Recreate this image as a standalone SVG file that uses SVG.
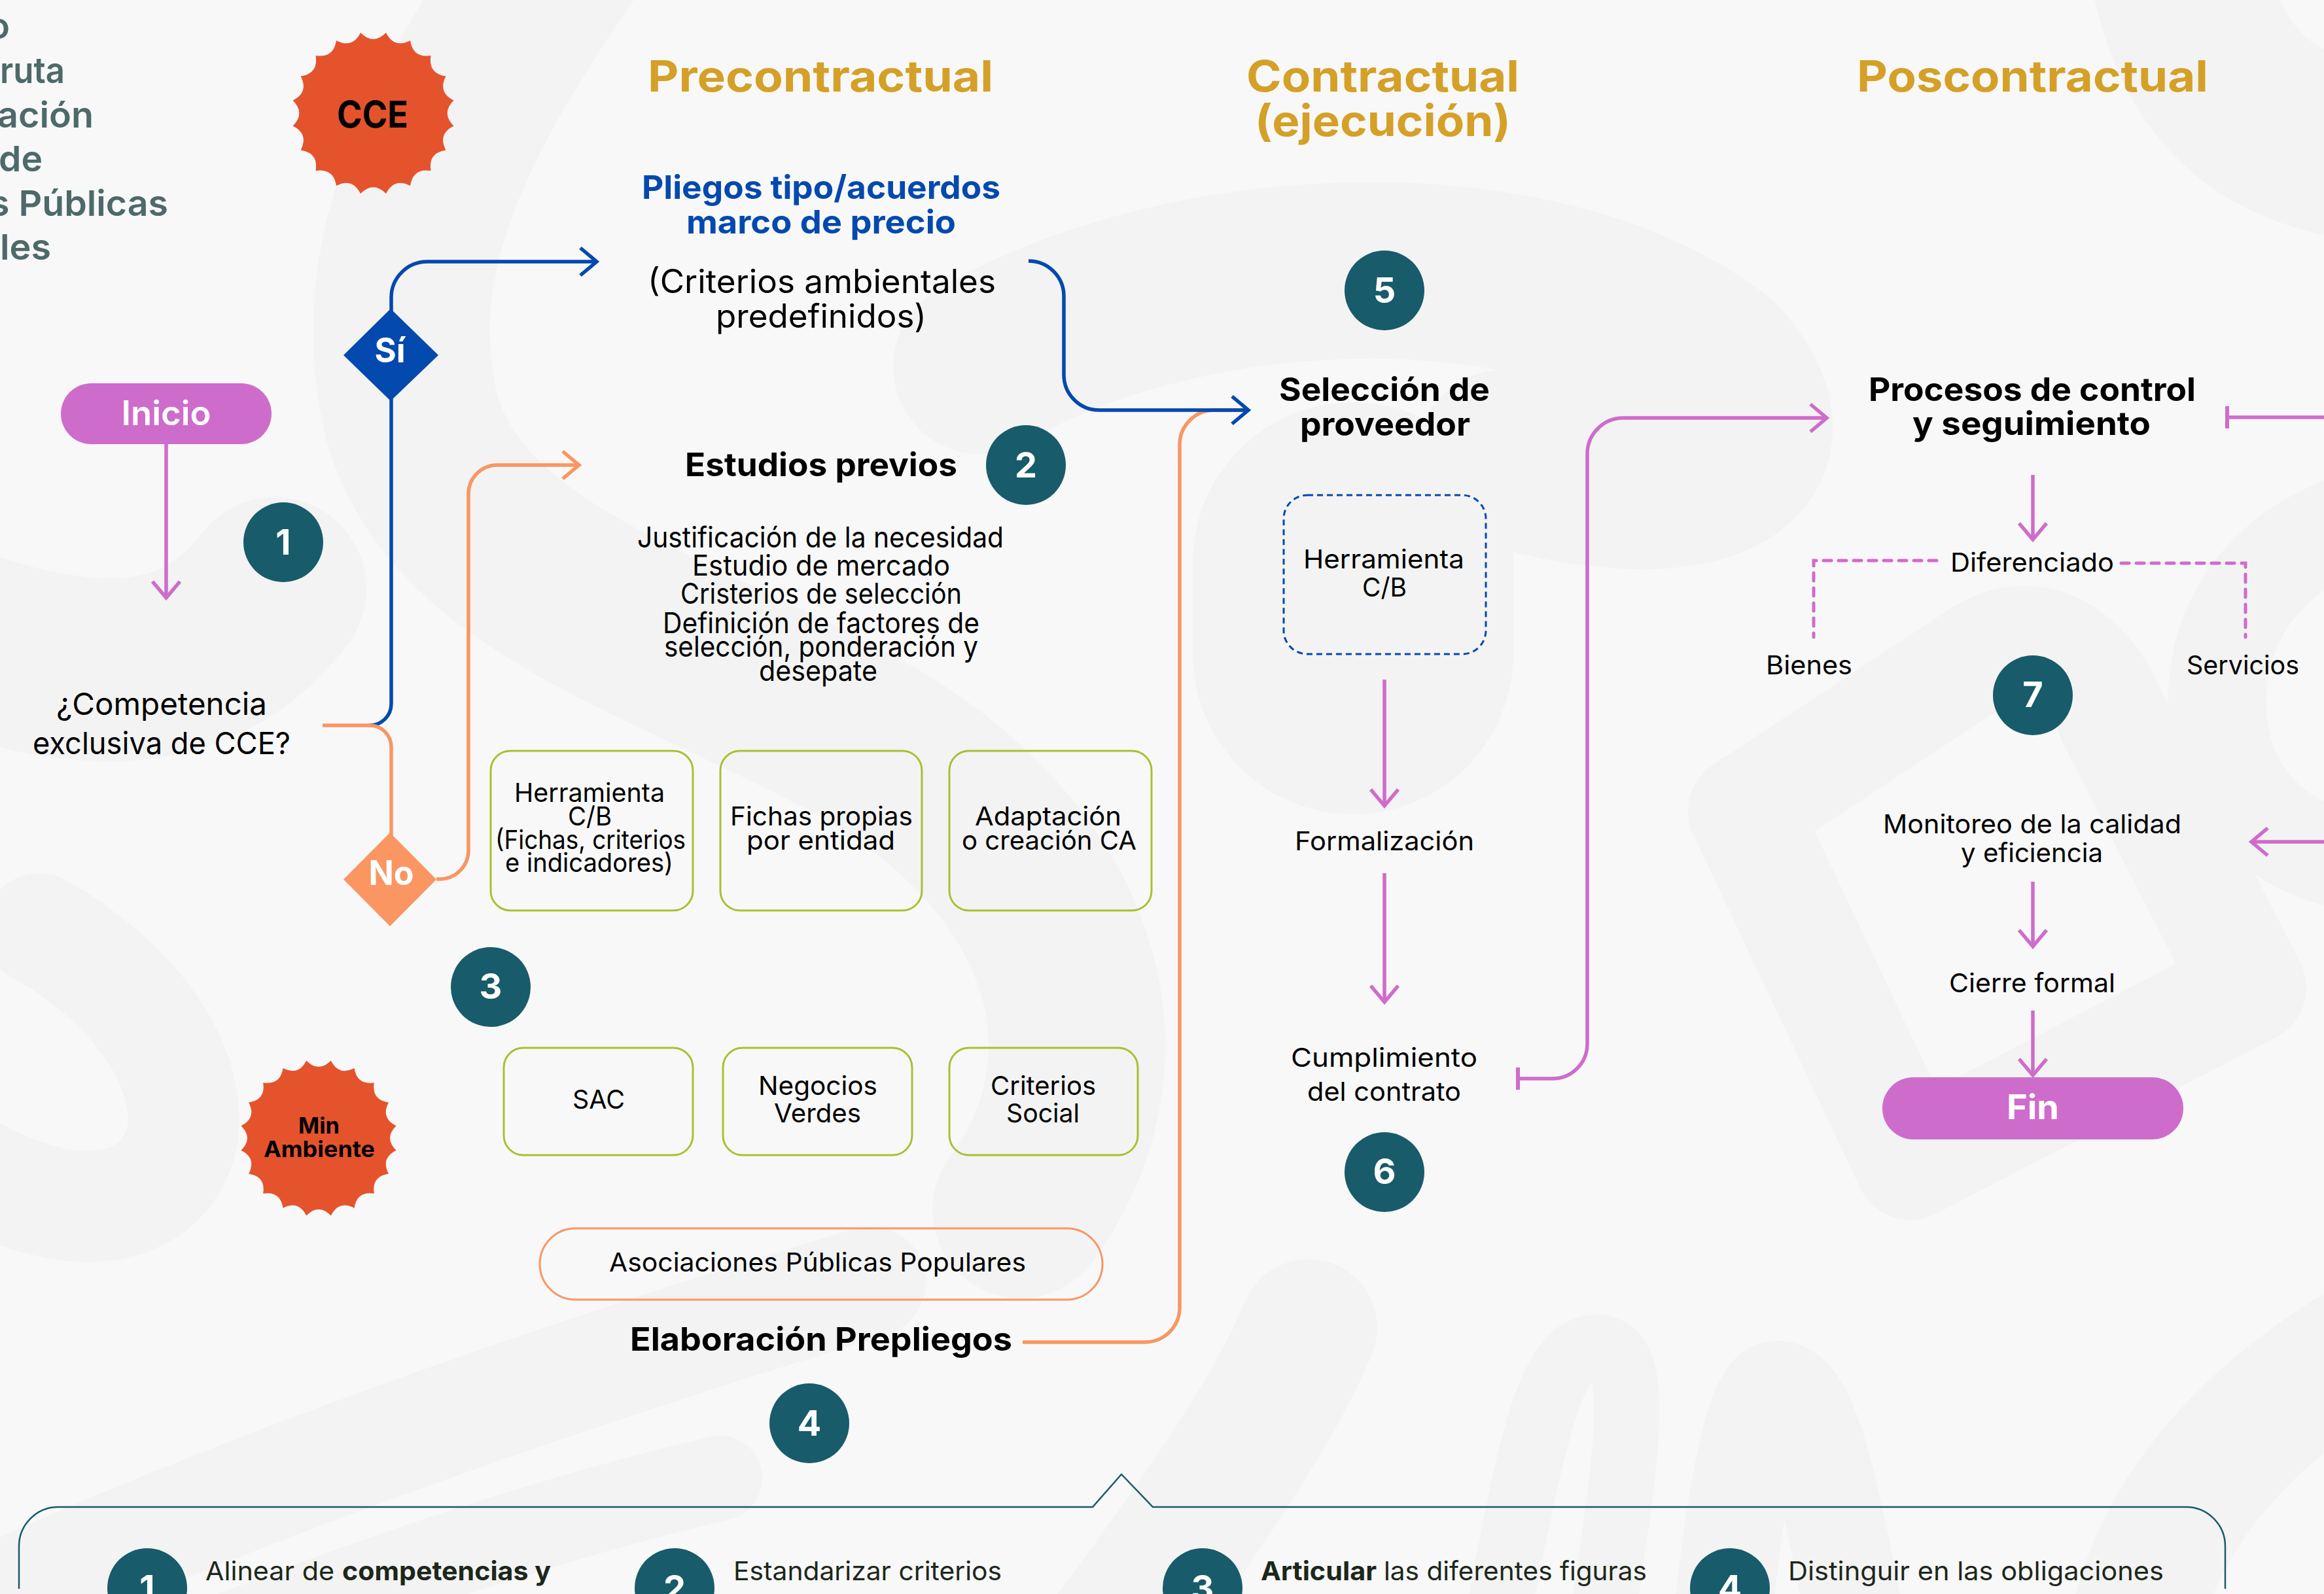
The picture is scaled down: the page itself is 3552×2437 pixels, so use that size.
<svg xmlns="http://www.w3.org/2000/svg" width="3552" height="2437" viewBox="0 0 3552 2437">
<style>
text{font-family:Inter,"Liberation Sans",sans-serif;fill:#000;font-weight:400;font-size:44px}
.h{font-size:66px;font-weight:700;fill:#d5a027}
.s{font-size:54px;font-weight:600;fill:#4e6969}
.b{font-size:50px;font-weight:700}
.p{font-size:50px;font-weight:700;fill:#0349ae}
.m{font-size:50px}
.k{font-size:40px}
.w{font-size:52px;font-weight:700;fill:#fff;text-anchor:middle}
.n{font-size:54px;font-weight:700;fill:#fff;text-anchor:middle}
.d{font-size:40px;fill:#1c271b}
.db{font-weight:700}
.c{fill:#185b6b}
.g{fill:none;stroke:#a9c031;stroke-width:3}
.l{fill:none;stroke-width:5.5}
.blue{stroke:#0349ae}.or{stroke:#f99662}.pk{stroke:#ce6ccb}
.bg path{fill:none;stroke:#f3f3f3;stroke-linecap:round;stroke-linejoin:round}
</style>
<defs>
<marker id="ap" markerUnits="userSpaceOnUse" viewBox="-32 -26 38 52" refX="0" refY="0" markerWidth="38" markerHeight="52" orient="auto"><path d="M-25-21 0 0-25 21" fill="none" stroke="#ce6ccb" stroke-width="5.5"/></marker>
<marker id="ab" markerUnits="userSpaceOnUse" viewBox="-32 -26 38 52" refX="0" refY="0" markerWidth="38" markerHeight="52" orient="auto"><path d="M-25-21 0 0-25 21" fill="none" stroke="#0349ae" stroke-width="5.5"/></marker>
<marker id="ao" markerUnits="userSpaceOnUse" viewBox="-32 -26 38 52" refX="0" refY="0" markerWidth="38" markerHeight="52" orient="auto"><path d="M-25-21 0 0-25 21" fill="none" stroke="#f99662" stroke-width="5.5"/></marker>
<marker id="tee" markerUnits="userSpaceOnUse" viewBox="-8 -20 16 40" refX="0" refY="0" markerWidth="16" markerHeight="40" orient="auto"><path d="M0-17V17" fill="none" stroke="#ce6ccb" stroke-width="6"/></marker>
<path id="burst" fill="#e5532d" d="M15.64-98.77Q25.65-78.94 45.4-89.1 48.79-67.15 70.71-70.71 67.15-48.79 89.1-45.4 78.94-25.65 98.77-15.64 83 0 98.77 15.64 78.94 25.65 89.1 45.4 67.15 48.79 70.71 70.71 48.79 67.15 45.4 89.1 25.65 78.94 15.64 98.77 0 83-15.64 98.77-25.65 78.94-45.4 89.1-48.79 67.15-70.71 70.71-67.15 48.79-89.1 45.4-78.94 25.65-98.77 15.64-83 0-98.77-15.64-78.94-25.65-89.1-45.4-67.15-48.79-70.71-70.71-48.79-67.15-45.4-89.1-25.65-78.94-15.64-98.77 0-83 15.64-98.77Z"/>
</defs>
<rect width="3552" height="2437" fill="#f8f8f8"/>
<g id="background" class="bg">
<path style="stroke-width:270" d="M860-80C680 180 570 400 630 640C700 880 1000 960 1300 1120C1650 1310 1730 1620 1560 1850"/>
<path style="stroke-width:280" d="M-60 980C120 1040 300 1060 420 900"/>
<path style="stroke-width:170" d="M60 1420C200 1500 290 1620 280 1730C260 1850 120 1890 -60 1780"/>
<path style="stroke-width:270" d="M1500 560C1800 380 2350 350 2620 560C2760 720 2560 780 2300 700"/>
<path style="stroke-width:490" d="M2068 1000C2068 960 2068 900 2068 860"/>
<path style="stroke-width:170" d="M2665 1240 3030 1000C3110 950 3190 1000 3230 1100L3440 1510 2920 1780 2665 1240"/>
<path style="stroke-width:150" d="M3620 790C3420 850 3380 1000 3390 1100C3400 1230 3500 1310 3620 1320"/>
<path style="stroke-width:270" d="M3320-100C3350 120 3450 230 3680 240"/>
<path style="stroke-width:170" d="M-80 2480C300 2300 800 2120 1330 1960"/>
<path style="stroke-width:130" d="M300 2520C500 2440 800 2330 1100 2260"/>
<path style="stroke-width:210" d="M2000 2030C1950 2150 1850 2300 1700 2500"/>
<path style="stroke-width:100" d="M2290 2470C2340 2200 2370 2060 2440 2060C2510 2060 2490 2200 2450 2470"/>
<path style="stroke-width:150" d="M2630 2500C2650 2300 2680 2125 2716 2125C2770 2125 2800 2300 2840 2500"/>
<path style="stroke-width:200" d="M3260 2500C3300 2300 3450 2140 3680 2020"/>
</g>
<g id="connectors">
<path class="l blue" d="M565 1109A33 33 0 0 0 598 1076V455A55 55 0 0 1 653 400H912" marker-end="url(#ab)"/>
<path class="l or" d="M493 1109H565A33 33 0 0 1 598 1142V1280"/>
<path class="l or" d="M667 1344H672A44 44 0 0 0 716 1300V755A44 44 0 0 1 760 711H885" marker-end="url(#ao)"/>
<path class="l or" d="M1563 2052H1750A53 53 0 0 0 1803 1999V680A53 53 0 0 1 1856 627H1905"/>
<path class="l blue" d="M1572 399A54 54 0 0 1 1626 453V573A54 54 0 0 0 1680 627H1908" marker-end="url(#ab)"/>
<path class="l pk" d="M2320 1649H2373A53 53 0 0 0 2426 1596V695A55 55 0 0 1 2481 639H2792" marker-start="url(#tee)" marker-end="url(#ap)"/>
<path class="l pk" d="M254 679V914" marker-end="url(#ap)"/>
<path class="l pk" d="M2116 1039V1232" marker-end="url(#ap)"/>
<path class="l pk" d="M2116 1335V1532" marker-end="url(#ap)"/>
<path class="l pk" d="M3107 726V825" marker-end="url(#ap)"/>
<path class="l pk" d="M3107 1348V1447" marker-end="url(#ap)"/>
<path class="l pk" d="M3107 1545V1644" marker-end="url(#ap)"/>
<path class="l pk" d="M3404 638H3560" marker-start="url(#tee)"/>
<path class="l pk" d="M3560 1287H3441" marker-end="url(#ap)"/>
<path class="l pk" style="stroke-width:5" stroke-linecap="round" stroke-dasharray="12 11" d="M2960 857H2772V974"/>
<path class="l pk" style="stroke-width:5" stroke-linecap="round" stroke-dasharray="12 11" d="M3242 861H3432V974"/>
</g>
<g id="title">
<text class="s" x="-18" y="59" textLength="33" lengthAdjust="spacingAndGlyphs">o</text>
<text class="s" x="0" y="127" textLength="99" lengthAdjust="spacingAndGlyphs">ruta</text>
<text class="s" x="-4" y="195" textLength="147" lengthAdjust="spacingAndGlyphs">ación</text>
<text class="s" x="-2" y="262" textLength="67" lengthAdjust="spacingAndGlyphs">de</text>
<text class="s" x="-16" y="330" textLength="273" lengthAdjust="spacingAndGlyphs">s Públicas</text>
<text class="s" x="0" y="397" textLength="78" lengthAdjust="spacingAndGlyphs">les</text>
</g>
<g id="cce"><use href="#burst" transform="translate(570.5 173) scale(1.245)"/><text x="515" y="195" style="font-size:56px;font-weight:700" textLength="109" lengthAdjust="spacingAndGlyphs">CCE</text></g>
<g id="min-ambiente"><use href="#burst" transform="translate(487 1740) scale(1.2)"/><text x="456" y="1733" style="font-size:34px;font-weight:700" textLength="63" lengthAdjust="spacingAndGlyphs">Min</text><text x="403" y="1769" style="font-size:34px;font-weight:700" textLength="170" lengthAdjust="spacingAndGlyphs">Ambiente</text></g>
<g id="header-pre"><text class="h" x="990" y="140" textLength="528" lengthAdjust="spacingAndGlyphs">Precontractual</text></g>
<g id="header-con"><text class="h" x="1905" y="140" textLength="417" lengthAdjust="spacingAndGlyphs">Contractual</text><text class="h" x="1918" y="208" textLength="391" lengthAdjust="spacingAndGlyphs">(ejecución)</text></g>
<g id="header-pos"><text class="h" x="2838" y="140" textLength="537" lengthAdjust="spacingAndGlyphs">Poscontractual</text></g>
<g id="inicio"><rect x="93" y="586" width="322" height="93" rx="46.5" fill="#ce6ccb"/><text class="w" x="254" y="650" textLength="137" lengthAdjust="spacingAndGlyphs" style="font-weight:600">Inicio</text></g>
<g id="badge-1"><circle class="c" cx="433" cy="829" r="61"/><text class="n" x="433" y="848">1</text></g>
<g id="competencia"><text class="m" x="86" y="1093" style="font-size:47px" textLength="322" lengthAdjust="spacingAndGlyphs">¿Competencia</text><text class="m" x="50" y="1153" style="font-size:47px" textLength="394" lengthAdjust="spacingAndGlyphs">exclusiva de CCE?</text></g>
<g id="si"><path d="M597 472 670 543 597 613 525 543Z" fill="#0349ae"/><text class="w" x="596" y="554" textLength="47" lengthAdjust="spacingAndGlyphs">Sí</text></g>
<g id="no"><path d="M596 1273 667 1344.5 596 1416 525 1344.5Z" fill="#f99662"/><text class="w" x="598" y="1353" textLength="69" lengthAdjust="spacingAndGlyphs">No</text></g>
<g id="pliegos"><text class="p" x="981" y="304" textLength="548" lengthAdjust="spacingAndGlyphs">Pliegos tipo/acuerdos</text><text class="p" x="1049" y="357" textLength="412" lengthAdjust="spacingAndGlyphs">marco de precio</text><text class="m" x="990" y="448" textLength="532" lengthAdjust="spacingAndGlyphs">(Criterios ambientales</text><text class="m" x="1094" y="501" textLength="322" lengthAdjust="spacingAndGlyphs">predefinidos)</text></g>
<g id="estudios"><text class="b" x="1047" y="728" textLength="416" lengthAdjust="spacingAndGlyphs">Estudios previos</text><circle class="c" cx="1568" cy="711" r="61"/><text class="n" x="1568" y="730">2</text></g>
<g id="justificacion">
<text x="974" y="837" textLength="560" lengthAdjust="spacingAndGlyphs">Justificación de la necesidad</text>
<text x="1058" y="880" textLength="394" lengthAdjust="spacingAndGlyphs">Estudio de mercado</text>
<text x="1040" y="923" textLength="430" lengthAdjust="spacingAndGlyphs">Cristerios de selección</text>
<text x="1013" y="968" textLength="484" lengthAdjust="spacingAndGlyphs">Definición de factores de</text>
<text x="1015" y="1004" textLength="480" lengthAdjust="spacingAndGlyphs">selección, ponderación y</text>
<text x="1160" y="1041" textLength="181" lengthAdjust="spacingAndGlyphs">desepate</text>
</g>
<g id="box-herramienta"><rect class="g" x="750" y="1148" width="309" height="244" rx="30"/><text class="k" x="786" y="1226" textLength="230" lengthAdjust="spacingAndGlyphs">Herramienta</text><text class="k" x="868" y="1262" textLength="67" lengthAdjust="spacingAndGlyphs">C/B</text><text class="k" x="757" y="1298" textLength="291" lengthAdjust="spacingAndGlyphs">(Fichas, criterios</text><text class="k" x="772" y="1333" textLength="257" lengthAdjust="spacingAndGlyphs">e indicadores)</text></g>
<g id="box-fichas"><rect class="g" x="1101" y="1148" width="308" height="244" rx="30"/><text class="k" x="1116" y="1262" textLength="279" lengthAdjust="spacingAndGlyphs">Fichas propias</text><text class="k" x="1141" y="1299" textLength="227" lengthAdjust="spacingAndGlyphs">por entidad</text></g>
<g id="box-adaptacion"><rect class="g" x="1451" y="1148" width="309" height="244" rx="30"/><text class="k" x="1490" y="1262" textLength="224" lengthAdjust="spacingAndGlyphs">Adaptación</text><text class="k" x="1470" y="1299" textLength="267" lengthAdjust="spacingAndGlyphs">o creación CA</text></g>
<g id="badge-3"><circle class="c" cx="750" cy="1509" r="61"/><text class="n" x="750" y="1527">3</text></g>
<g id="box-sac"><rect class="g" x="770" y="1602" width="289" height="164" rx="30"/><text class="k" x="875" y="1695" textLength="80" lengthAdjust="spacingAndGlyphs">SAC</text></g>
<g id="box-negocios"><rect class="g" x="1105" y="1602" width="289" height="164" rx="30"/><text class="k" x="1159" y="1674" textLength="182" lengthAdjust="spacingAndGlyphs">Negocios</text><text class="k" x="1183" y="1716" textLength="133" lengthAdjust="spacingAndGlyphs">Verdes</text></g>
<g id="box-criterios"><rect class="g" x="1451" y="1602" width="288" height="164" rx="30"/><text class="k" x="1514" y="1674" textLength="161" lengthAdjust="spacingAndGlyphs">Criterios</text><text class="k" x="1538" y="1716" textLength="112" lengthAdjust="spacingAndGlyphs">Social</text></g>
<g id="asociaciones"><rect x="825" y="1878" width="860" height="109" rx="54.5" fill="none" stroke="#f99662" stroke-width="3"/><text class="k" x="931" y="1944" textLength="637" lengthAdjust="spacingAndGlyphs">Asociaciones Públicas Populares</text></g>
<g id="elaboracion"><text class="b" x="963" y="2065" textLength="584" lengthAdjust="spacingAndGlyphs">Elaboración Prepliegos</text></g>
<g id="badge-4"><circle class="c" cx="1237" cy="2176" r="61"/><text class="n" x="1237" y="2195">4</text></g>
<g id="badge-5"><circle class="c" cx="2116" cy="444" r="61"/><text class="n" x="2116" y="463">5</text></g>
<g id="seleccion"><text class="b" x="1955" y="613" textLength="322" lengthAdjust="spacingAndGlyphs">Selección de</text><text class="b" x="1987" y="666" textLength="260" lengthAdjust="spacingAndGlyphs">proveedor</text></g>
<g id="herramienta-cb"><rect x="1962" y="757" width="309" height="243" rx="36" fill="none" stroke="#0349ae" stroke-width="3" stroke-dasharray="9 6"/><text class="k" x="1992" y="869" textLength="246" lengthAdjust="spacingAndGlyphs">Herramienta</text><text class="k" x="2082" y="912" textLength="68" lengthAdjust="spacingAndGlyphs">C/B</text></g>
<g id="formalizacion"><text class="k" x="1979" y="1300" textLength="274" lengthAdjust="spacingAndGlyphs">Formalización</text></g>
<g id="cumplimiento"><text class="k" x="1973" y="1631" textLength="285" lengthAdjust="spacingAndGlyphs">Cumplimiento</text><text class="k" x="1998" y="1683" textLength="235" lengthAdjust="spacingAndGlyphs">del contrato</text></g>
<g id="badge-6"><circle class="c" cx="2116" cy="1792" r="61"/><text class="n" x="2116" y="1810">6</text></g>
<g id="procesos"><text class="b" x="2856" y="613" textLength="500" lengthAdjust="spacingAndGlyphs">Procesos de control</text><text class="b" x="2923" y="665" textLength="364" lengthAdjust="spacingAndGlyphs">y seguimiento</text></g>
<g id="diferenciado"><text class="k" x="2981" y="874" textLength="250" lengthAdjust="spacingAndGlyphs">Diferenciado</text></g>
<g id="bienes"><text class="k" x="2699" y="1031" textLength="132" lengthAdjust="spacingAndGlyphs">Bienes</text></g>
<g id="servicios"><text class="k" x="3342" y="1031" textLength="172" lengthAdjust="spacingAndGlyphs">Servicios</text></g>
<g id="badge-7"><circle class="c" cx="3107" cy="1063" r="61"/><text class="n" x="3107" y="1081">7</text></g>
<g id="monitoreo"><text class="k" x="2878" y="1274" textLength="456" lengthAdjust="spacingAndGlyphs">Monitoreo de la calidad</text><text class="k" x="2997" y="1318" textLength="217" lengthAdjust="spacingAndGlyphs">y eficiencia</text></g>
<g id="cierre"><text class="k" x="2979" y="1517" textLength="254" lengthAdjust="spacingAndGlyphs">Cierre formal</text></g>
<g id="fin"><rect x="2877" y="1647" width="460" height="95" rx="47.5" fill="#ce6ccb"/><text class="w" x="3107" y="1711" textLength="80" lengthAdjust="spacingAndGlyphs">Fin</text></g>
<g id="callout">
<path d="M29 2429V2364A60 60 0 0 1 89 2304H1670L1714 2254 1762 2304H3341A60 60 0 0 1 3401 2364V2429" fill="none" stroke="#185b6b" stroke-width="2.5"/>
<circle class="c" cx="225" cy="2428" r="61"/><text class="n" x="225" y="2447">1</text>
<text class="d" x="314" y="2416"><tspan x="314" textLength="197" lengthAdjust="spacingAndGlyphs">Alinear de</tspan><tspan class="db" x="523" textLength="319" lengthAdjust="spacingAndGlyphs">competencias y</tspan></text>
<circle class="c" cx="1031" cy="2428" r="61"/><text class="n" x="1031" y="2447">2</text>
<text class="d" x="1121" y="2416" textLength="410" lengthAdjust="spacingAndGlyphs">Estandarizar criterios</text>
<circle class="c" cx="1838" cy="2428" r="61"/><text class="n" x="1838" y="2447">3</text>
<text class="d" x="1925" y="2416"><tspan class="db" x="1927" textLength="177" lengthAdjust="spacingAndGlyphs">Articular</tspan><tspan x="2115" textLength="402" lengthAdjust="spacingAndGlyphs">las diferentes figuras</tspan></text>
<circle class="c" cx="2644" cy="2428" r="61"/><text class="n" x="2644" y="2447">4</text>
<text class="d" x="2733" y="2416" textLength="574" lengthAdjust="spacingAndGlyphs">Distinguir en las obligaciones</text>
</g>
</svg>
